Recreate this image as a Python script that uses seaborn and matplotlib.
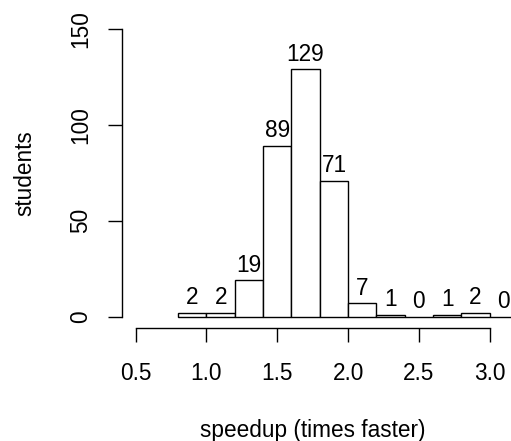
import numpy as np
import pandas as pd
import matplotlib
matplotlib.use("Agg")
import matplotlib.pyplot as plt
import seaborn as sns

# ─────────────────────────────────────────────
# DATA
# ─────────────────────────────────────────────
bin_edges = [0.8, 1.0, 1.2, 1.4, 1.6, 1.8, 2.0, 2.2, 2.4, 2.6, 2.8, 3.0, 3.2]
bin_counts = [2, 2, 19, 89, 129, 71, 7, 1, 0, 1, 2, 0]
x_ticks = [0.5, 1.0, 1.5, 2.0, 2.5, 3.0]
y_ticks = [0, 50, 100, 150]

centers = [(a + b) / 2 for a, b in zip(bin_edges[:-1], bin_edges[1:])]
df = pd.DataFrame({"speedup": centers, "students": bin_counts})

# ─────────────────────────────────────────────
# FIGURE
# ─────────────────────────────────────────────
sns.set_style("white")
plt.rcParams["font.family"] = ["Liberation Sans", "DejaVu Sans"]
plt.rcParams["text.color"] = "black"
plt.rcParams["axes.labelcolor"] = "black"
FS = 16.3

W, H = 511, 441
fig = plt.figure(figsize=(W / 100, H / 100), dpi=100)
left, right, top, bottom = 121.5, 503.9, 17.5, 328.2
ax = fig.add_axes([left / W, (H - bottom) / H, (right - left) / W, (bottom - top) / H])

sns.histplot(data=df, x="speedup", weights="students", bins=bin_edges,
             stat="count", color="white", edgecolor="black", linewidth=1.0,
             alpha=1.0, ax=ax)
for patch in ax.patches:
    patch.set_clip_on(False)

# count labels above bars
for cx, cnt in zip(centers, bin_counts):
    ax.annotate(str(cnt), (cx, cnt), xytext=(0, 6.2), textcoords="offset points",
                ha="center", va="baseline", fontsize=FS, color="black",
                annotation_clip=False)

ax.set_xlim(0.4, 3.1)
ax.set_ylim(-6, 156)
ax.set_xticks(x_ticks)
ax.set_xticklabels([f"{v:.1f}" for v in x_ticks])
ax.set_yticks(y_ticks)
ax.set_yticklabels([str(v) for v in y_ticks])

for side in ["top", "right"]:
    ax.spines[side].set_visible(False)
for side in ["left", "bottom"]:
    ax.spines[side].set_color("black")
    ax.spines[side].set_linewidth(1.0)
ax.spines["bottom"].set_bounds(0.5, 3.0)
ax.spines["left"].set_bounds(0, 150)

ax.tick_params(axis="both", direction="out", length=10.3, width=1.0,
               color="black", labelsize=FS, labelcolor="black")
ax.tick_params(axis="x", bottom=True, pad=27)
ax.tick_params(axis="y", left=True, pad=11, labelrotation=90)
for lab in ax.get_xticklabels():
    lab.set_va("baseline")
for lab in ax.get_yticklabels():
    lab.set_va("center")

ax.set_xlabel("speedup (times faster)", fontsize=FS)
ax.set_ylabel("students", fontsize=FS)
ax.xaxis.set_label_coords(0.5, (bottom - 437) / (bottom - top))
ax.xaxis.label.set_va("baseline")
ax.yaxis.set_label_coords((31 - left) / (right - left), 0.5)
ax.yaxis.label.set_va("baseline")

fig.savefig("out.png", dpi=100)
plt.close(fig)
